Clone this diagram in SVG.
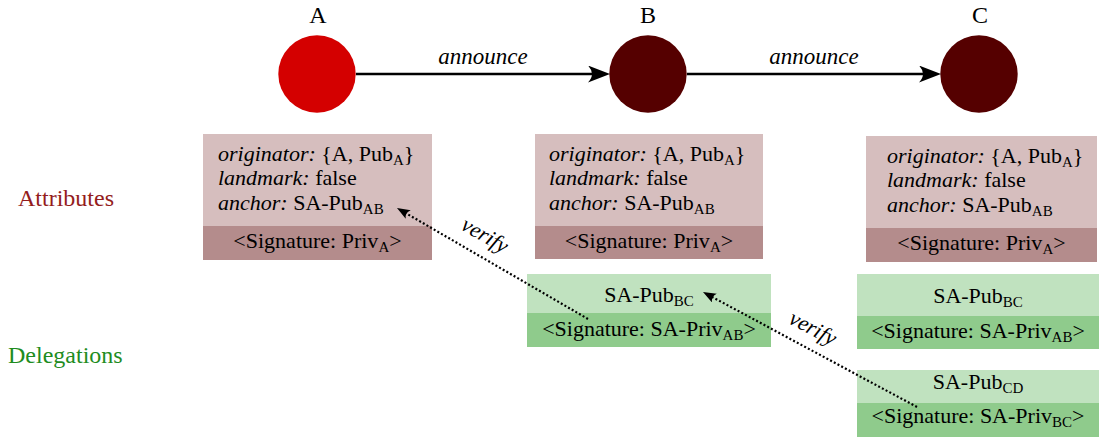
<svg xmlns="http://www.w3.org/2000/svg" width="1099" height="439" viewBox="0 0 1099 439" font-family="'Liberation Serif', 'Times New Roman', serif">
<style>
text{font-family:"Liberation Serif","Times New Roman",serif;fill:#000}
.bx{font-family:"Liberation Serif","Times New Roman",serif;font-size:22px}
.it{font-style:italic}
.lbl{font-family:"Liberation Serif","Times New Roman",serif;font-size:24px}
.node{font-family:"Liberation Serif","Times New Roman",serif;font-size:24px}
.ann{font-family:"Liberation Serif","Times New Roman",serif;font-size:23px;font-style:italic}
.ver{font-family:"Liberation Serif","Times New Roman",serif;font-size:22px;font-style:italic}
.sb{font-size:15px}
.al{fill:#d6bebe}
.ad{fill:#b48c8c}
.gl{fill:#c0e2bf}
.gd{fill:#8fcb8c}
.mid{text-anchor:middle}
.solid{stroke:#000;stroke-width:2.5;fill:none}
.dot{stroke:#000;stroke-width:2.2;fill:none;stroke-dasharray:2 2.2}
</style>
<defs>
<marker id="big" markerUnits="userSpaceOnUse" markerWidth="24" markerHeight="18" refX="12" refY="8.5" orient="auto">
<path d="M0,0 L22,8.5 L0,17 Q8,8.5 0,0 Z" fill="#000"/>
</marker>
<marker id="small" markerUnits="userSpaceOnUse" markerWidth="15" markerHeight="12" refX="8" refY="5" orient="auto">
<path d="M0,0 L13,5 L0,10 Q4,5 0,0 Z" fill="#000"/>
</marker>
</defs>

<text class="lbl" x="18" y="206" style="fill:#941c1c">Attributes</text>
<text class="lbl" x="8" y="363" style="fill:#1e8c1e">Delegations</text>

<g id="nodeA">
<circle cx="317" cy="74" r="38.7" fill="#d40000"/>
<text class="node mid" x="318" y="23">A</text>
</g>
<g id="nodeB">
<circle cx="648" cy="74" r="38.7" fill="#550000"/>
<text class="node mid" x="648" y="23">B</text>
</g>
<g id="nodeC">
<circle cx="979" cy="74" r="38.7" fill="#550000"/>
<text class="node mid" x="980" y="23">C</text>
</g>

<g id="attrA" font-family="'Liberation Serif', serif">
<rect class="al" x="203" y="134" width="229" height="92"/>
<rect class="ad" x="203" y="226" width="229" height="34"/>
<text class="bx" x="218" y="161"><tspan class="it">originator:</tspan> {A, Pub<tspan class="sb" dy="4">A</tspan><tspan dy="-4">}</tspan></text>
<text class="bx" x="218" y="185"><tspan class="it">landmark:</tspan> false</text>
<text class="bx" x="218" y="210"><tspan class="it">anchor:</tspan> SA-Pub<tspan class="sb" dy="4">AB</tspan></text>
<text class="bx mid" x="317.5" y="248">&lt;Signature: Priv<tspan class="sb" dy="4">A</tspan><tspan dy="-4">&gt;</tspan></text>
</g>

<g id="attrB" font-family="'Liberation Serif', serif">
<rect class="al" x="535" y="134" width="228" height="92"/>
<rect class="ad" x="535" y="226" width="228" height="33"/>
<text class="bx" x="549" y="161"><tspan class="it">originator:</tspan> {A, Pub<tspan class="sb" dy="4">A</tspan><tspan dy="-4">}</tspan></text>
<text class="bx" x="549" y="185"><tspan class="it">landmark:</tspan> false</text>
<text class="bx" x="549" y="210"><tspan class="it">anchor:</tspan> SA-Pub<tspan class="sb" dy="4">AB</tspan></text>
<text class="bx mid" x="649" y="248">&lt;Signature: Priv<tspan class="sb" dy="4">A</tspan><tspan dy="-4">&gt;</tspan></text>
</g>

<g id="attrC" font-family="'Liberation Serif', serif">
<rect class="al" x="866" y="136" width="231" height="92"/>
<rect class="ad" x="866" y="228" width="231" height="34"/>
<text class="bx" x="887" y="163"><tspan class="it">originator:</tspan> {A, Pub<tspan class="sb" dy="4">A</tspan><tspan dy="-4">}</tspan></text>
<text class="bx" x="887" y="187"><tspan class="it">landmark:</tspan> false</text>
<text class="bx" x="887" y="212"><tspan class="it">anchor:</tspan> SA-Pub<tspan class="sb" dy="4">AB</tspan></text>
<text class="bx mid" x="981.5" y="250">&lt;Signature: Priv<tspan class="sb" dy="4">A</tspan><tspan dy="-4">&gt;</tspan></text>
</g>

<g id="delegB" font-family="'Liberation Serif', serif">
<rect class="gl" x="527" y="274" width="244" height="39"/>
<rect class="gd" x="527" y="313" width="244" height="34"/>
<text class="bx mid" x="649" y="302">SA-Pub<tspan class="sb" dy="4">BC</tspan></text>
<text class="bx mid" x="649" y="336">&lt;Signature: SA-Priv<tspan class="sb" dy="4">AB</tspan><tspan dy="-4">&gt;</tspan></text>
</g>

<g id="delegC1" font-family="'Liberation Serif', serif">
<rect class="gl" x="857" y="274" width="242" height="42"/>
<rect class="gd" x="857" y="316" width="242" height="33"/>
<text class="bx mid" x="978" y="303">SA-Pub<tspan class="sb" dy="4">BC</tspan></text>
<text class="bx mid" x="978" y="338">&lt;Signature: SA-Priv<tspan class="sb" dy="4">AB</tspan><tspan dy="-4">&gt;</tspan></text>
</g>

<g id="delegC2" font-family="'Liberation Serif', serif">
<rect class="gl" x="857" y="370" width="242" height="33"/>
<rect class="gd" x="857" y="403" width="242" height="34"/>
<text class="bx mid" x="978" y="389">SA-Pub<tspan class="sb" dy="4">CD</tspan></text>
<text class="bx mid" x="978" y="423">&lt;Signature: SA-Priv<tspan class="sb" dy="4">BC</tspan><tspan dy="-4">&gt;</tspan></text>
</g>

<g id="connectors">
<line class="solid" x1="356" y1="74" x2="600" y2="74" marker-end="url(#big)"/>
<text class="ann mid" x="483" y="64">announce</text>
<line class="solid" x1="687" y1="74" x2="931" y2="74" marker-end="url(#big)"/>
<text class="ann mid" x="814" y="64">announce</text>
<line class="dot" x1="588" y1="319" x2="401.3" y2="210.5" marker-end="url(#small)"/>
<text class="ver mid" transform="translate(484,237) rotate(30)" x="0" y="5">verify</text>
<line class="dot" x1="917" y1="407" x2="707.4" y2="294.4" marker-end="url(#small)"/>
<text class="ver mid" transform="translate(812,330) rotate(28)" x="0" y="5">verify</text>
</g>
</svg>
